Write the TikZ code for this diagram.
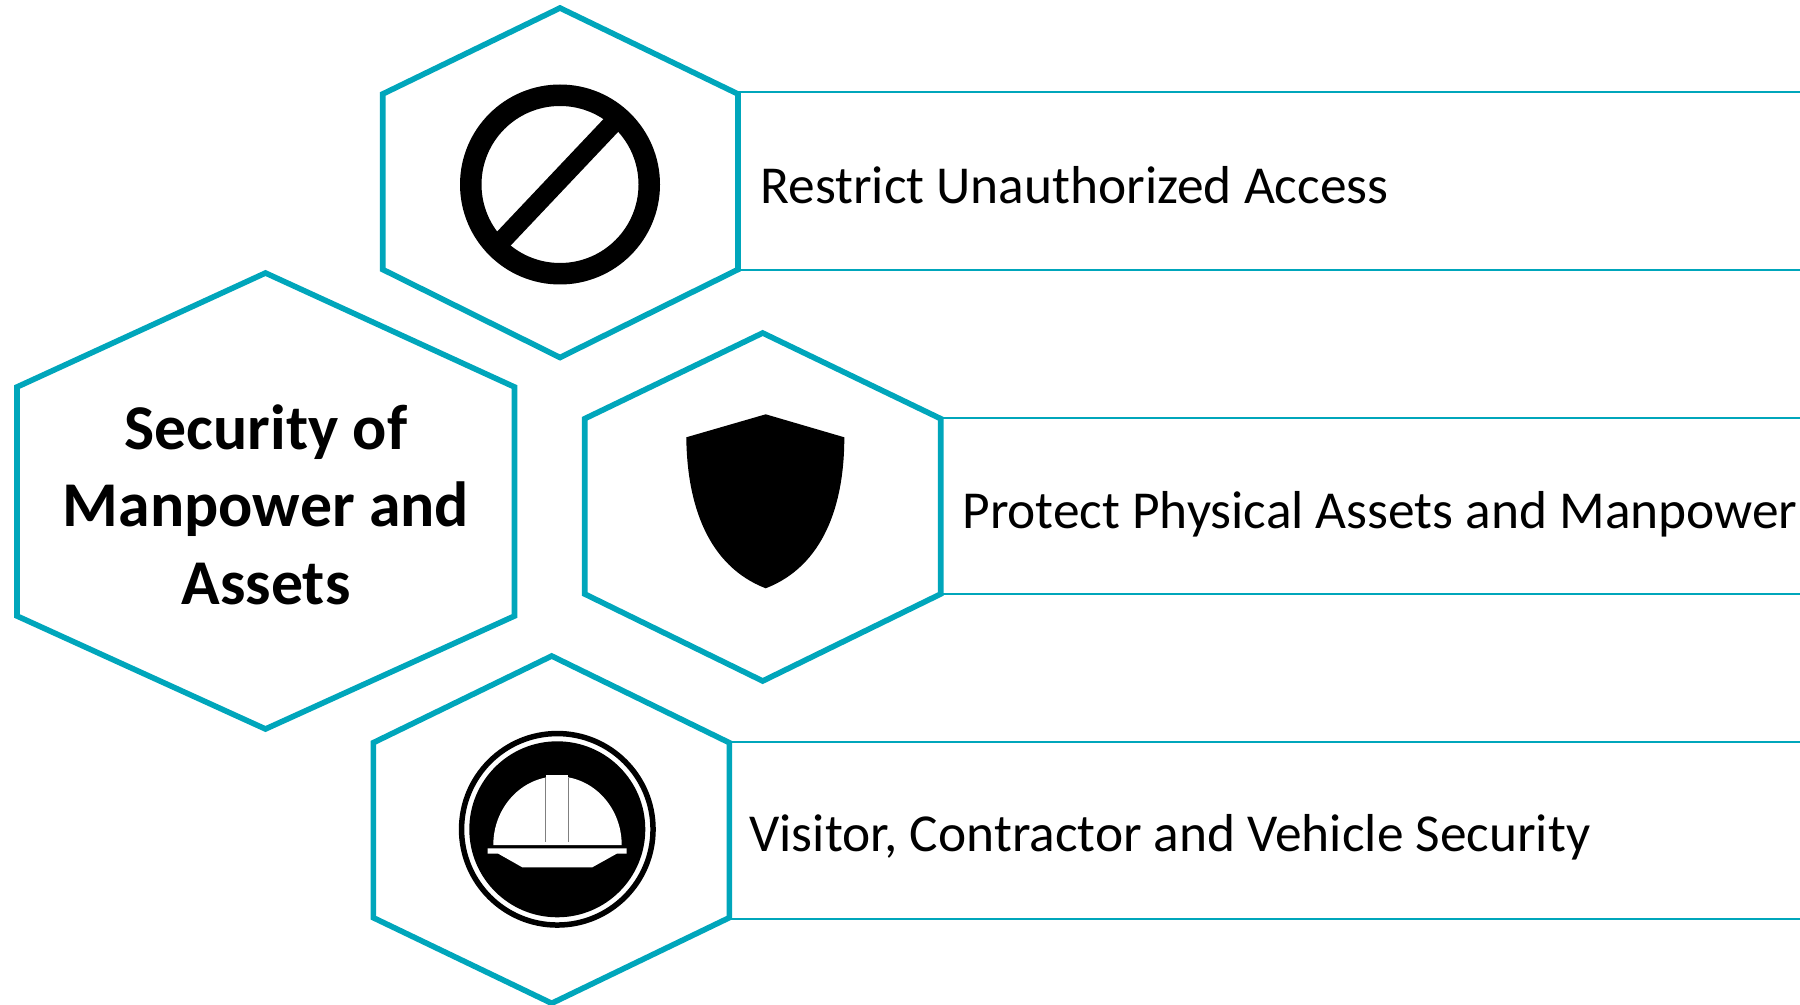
\documentclass[tikz,border=0pt]{standalone}
\usepackage{fontspec}
\setmainfont{Carlito}
\definecolor{hexteal}{HTML}{00A6BB}
\tikzset{
  hexline/.style={draw=hexteal,line width=2.8pt,fill=white,line join=miter},
  railline/.style={draw=hexteal,line width=1.1pt},
  itemtext/.style={anchor=base west,inner sep=0pt,font=\fontsize{26.7}{32}\selectfont},
  titletext/.style={anchor=base,inner sep=0pt,font=\fontsize{31.9}{38}\selectfont\bfseries},
  iconfill/.style={fill=black,draw=none}
}
\begin{document}
\begin{tikzpicture}[x=0.5pt,y=-0.5pt]
\useasboundingbox (0,0) rectangle (1800,1005);
% rails
\coordinate (r1a) at (738,92); \coordinate (r1b) at (1800,92);
\coordinate (r1c) at (738,270); \coordinate (r1d) at (1800,270);
\coordinate (r2a) at (941,417.7); \coordinate (r2b) at (1800,417.7);
\coordinate (r2c) at (941,594); \coordinate (r2d) at (1800,594);
\coordinate (r3a) at (729,741.7); \coordinate (r3b) at (1800,741.7);
\coordinate (r3c) at (729,919); \coordinate (r3d) at (1800,919);
\draw[railline] (r1a) -- (r1b);
\draw[railline] (r1c) -- (r1d);
\draw[railline] (r2a) -- (r2b);
\draw[railline] (r2c) -- (r2d);
\draw[railline] (r3a) -- (r3b);
\draw[railline] (r3c) -- (r3d);
% hexagons
\draw[hexline] (265.5,273) -- (514.5,387) -- (514.5,616) -- (265.5,729) -- (17,616) -- (17,387) -- cycle;
\draw[hexline] (560,8) -- (738,94) -- (738,269.5) -- (560,357.5) -- (382.7,269.5) -- (382.7,94) -- cycle;
\draw[hexline] (762.7,333) -- (940.7,418.7) -- (940.7,594) -- (762.7,681) -- (584.7,594) -- (584.7,418.7) -- cycle;
\draw[hexline] (551.7,656) -- (729.3,742.7) -- (729.3,917.7) -- (551.7,1003.3) -- (373.3,917.7) -- (373.3,742.7) -- cycle;
% prohibition icon
\path[iconfill,even odd rule] (560,184.5) circle[radius=100] (560,184.5) circle[radius=78.5];
\path[iconfill] (624,125.7) -- (609.9,112.3) -- (489.8,239.3) -- (503.9,252.7) -- cycle;
% shield icon
\path[iconfill] (765.7,414.3) -- (844.3,437.3) .. controls (844.4,505) and (823.4,566) .. (765.7,588.3)
  .. controls (708,566) and (687,505) .. (686.3,437.3) -- cycle;
% helmet icon
\path[iconfill,even odd rule] (557.3,829.3) circle[radius=98.5] (557.3,829.3) circle[radius=93];
\path[iconfill] (557.3,829.3) circle[radius=88];
\path[fill=white] (493.3,845) arc[start angle=180,end angle=360,x radius=64.2,y radius=68.6] -- cycle;
\path[fill=white] (546,775) rectangle (568.3,785);
\draw[gray,line width=0.5pt] (545,777.7) -- (545,841.7);
\draw[gray,line width=0.5pt] (568.7,777.7) -- (568.7,841.7);
\path[fill=white] (487.7,848.3) -- (626.7,848.3) -- (626.7,853.7) -- (616.7,853.7) -- (592.3,867.3) -- (522.3,867.3) -- (498.3,853.7) -- (487.7,853.7) -- cycle;
% texts
\node[titletext] (t1) at (266,450) {Security of};
\node[titletext] (t2) at (266,527) {Manpower and};
\node[titletext] (t3) at (266,604) {Assets};
\node[itemtext] (i1) at (760,204) {Restrict Unauthorized Access};
\node[itemtext] (i2) at (962,529) {Protect Physical Assets and Manpower};
\node[itemtext] (i3) at (749,851) {Visitor, Contractor and Vehicle Security};
\end{tikzpicture}
\end{document}
